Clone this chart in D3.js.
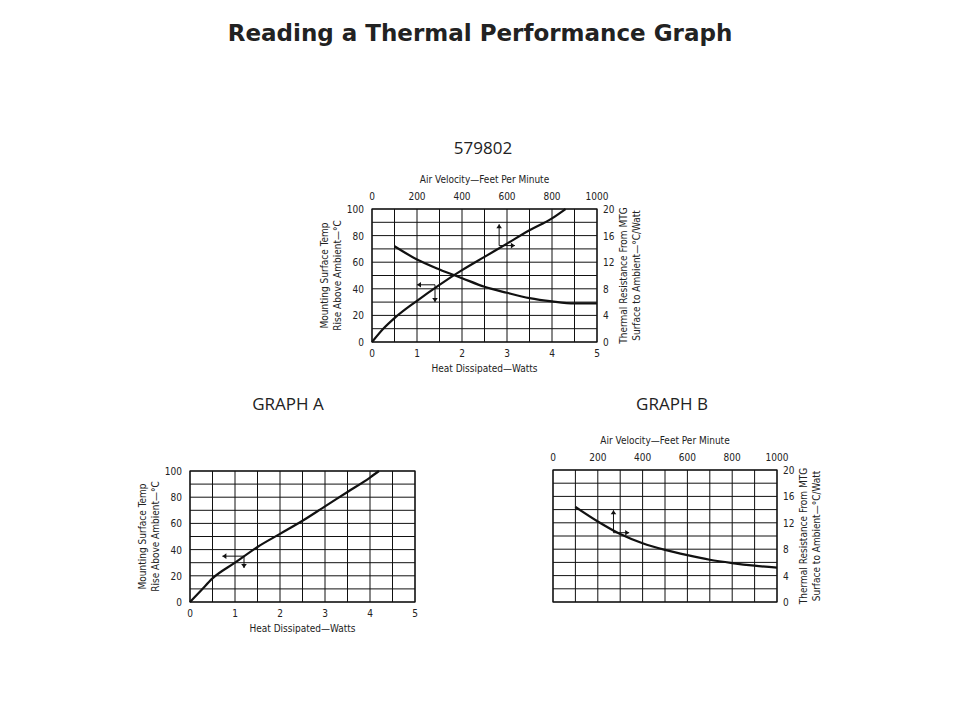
<!DOCTYPE html>
<html>
<head>
<meta charset="utf-8">
<script src="https://cdn.jsdelivr.net/npm/d3@7"></script>
<style>
body { margin: 0; background: #fff; }
text { fill: #222; }
.tick { font-family: "DejaVu Sans Condensed", "DejaVu Sans", sans-serif; font-size: 10px; }
.lbl { font-family: "DejaVu Sans Condensed", "DejaVu Sans", sans-serif; font-size: 10px; }
</style>
</head>
<body>
<svg id="chart" width="960" height="720"></svg>
<script>
// watts vs temperature rise (top chart)
var topHeatW = [0, 0.25, 0.5, 1, 1.5, 2, 2.5, 3, 3.5, 4, 4.3];
var topTempC = [0, 10, 18, 31, 43, 54, 64, 74, 84, 93, 100];
// air velocity vs thermal resistance (top chart)
var topAirFpm = [100, 200, 300, 400, 500, 600, 700, 800, 900, 1000];
var topResist = [14.4, 12.4, 10.9, 9.6, 8.3, 7.4, 6.6, 6.1, 5.8, 5.8];
// graph A
var aHeatW = [0, 0.25, 0.5, 1, 1.5, 2, 2.5, 3, 3.5, 4, 4.2];
var aTempC = [0, 9, 18, 30, 42, 52, 62, 73, 84, 95, 100];
// graph B
var bAirFpm = [100, 200, 300, 400, 500, 600, 700, 800, 900, 1000];
var bResist = [14.4, 12.2, 10.3, 8.9, 7.9, 7.1, 6.4, 5.9, 5.5, 5.2];

var wattTicks = [0, 1, 2, 3, 4, 5];
var fpmTicks = [0, 200, 400, 600, 800, 1000];
var tempTicks = [0, 20, 40, 60, 80, 100];
var resTicks = [0, 4, 8, 12, 16, 20];

var svg = d3.select("#chart");

svg.append("text").attr("x", 480).attr("y", 41).attr("text-anchor", "middle")
	.style("font-family", "'DejaVu Sans', Verdana, sans-serif").style("font-weight", "bold")
	.style("font-size", "23px").text("Reading a Thermal Performance Graph");

function zip(xs, ys) { return xs.map(function(x, i) { return [x, ys[i]]; }); }

function drawPanel(p) {
	var g = svg.append("g");
	var x = d3.scaleLinear().domain([0, 5]).range([p.x0, p.x1]);
	var xTop = d3.scaleLinear().domain([0, 1000]).range([p.x0, p.x1]);
	var yL = d3.scaleLinear().domain([0, 100]).range([p.y1, p.y0]);
	var yR = d3.scaleLinear().domain([0, 20]).range([p.y1, p.y0]);

	// grid
	d3.range(0, 5.01, 0.5).forEach(function(v) {
		g.append("line").attr("x1", x(v)).attr("x2", x(v)).attr("y1", p.y0).attr("y2", p.y1)
			.attr("stroke", "#111").attr("stroke-width", 1);
	});
	d3.range(0, 100.1, 10).forEach(function(v) {
		g.append("line").attr("x1", p.x0).attr("x2", p.x1).attr("y1", yL(v)).attr("y2", yL(v))
			.attr("stroke", "#111").attr("stroke-width", 1);
	});
	g.append("rect").attr("x", p.x0).attr("y", p.y0).attr("width", p.x1 - p.x0).attr("height", p.y1 - p.y0)
		.attr("fill", "none").attr("stroke", "#111").attr("stroke-width", 1.2);

	var line = d3.line().curve(d3.curveMonotoneX);
	if (p.left) {
		g.selectAll(null).data(wattTicks).enter().append("text").attr("class", "tick")
			.attr("x", function(d) { return x(d); }).attr("y", p.y1 + 15).attr("text-anchor", "middle").text(function(d) { return d; });
		g.selectAll(null).data(tempTicks).enter().append("text").attr("class", "tick")
			.attr("x", p.x0 - 8).attr("y", function(d) { return yL(d) + 4; }).attr("text-anchor", "end").text(function(d) { return d; });
		g.append("text").attr("class", "lbl").attr("x", (p.x0 + p.x1) / 2).attr("y", p.y1 + 30)
			.attr("text-anchor", "middle").text("Heat Dissipated\u2014Watts");
		var cy = (p.y0 + p.y1) / 2;
		g.append("text").attr("class", "lbl").attr("transform", "translate(" + (p.x0 - 44) + "," + cy + ") rotate(-90)")
			.attr("text-anchor", "middle").text("Mounting Surface Temp");
		g.append("text").attr("class", "lbl").attr("transform", "translate(" + (p.x0 - 31) + "," + cy + ") rotate(-90)")
			.attr("text-anchor", "middle").text("Rise Above Ambient\u2014\u00b0C");
		g.append("path").attr("d", line(p.left.map(function(d) { return [x(d[0]), yL(d[1])]; })))
			.attr("fill", "none").attr("stroke", "#111").attr("stroke-width", 2.2);
	}
	if (p.right) {
		g.selectAll(null).data(fpmTicks).enter().append("text").attr("class", "tick")
			.attr("x", function(d) { return xTop(d); }).attr("y", p.y0 - 9).attr("text-anchor", "middle").text(function(d) { return d; });
		g.selectAll(null).data(resTicks).enter().append("text").attr("class", "tick")
			.attr("x", p.x1 + 6).attr("y", function(d) { return yR(d) + 4; }).attr("text-anchor", "start").text(function(d) { return d; });
		g.append("text").attr("class", "lbl").attr("x", (p.x0 + p.x1) / 2).attr("y", p.y0 - 26)
			.attr("text-anchor", "middle").text("Air Velocity\u2014Feet Per Minute");
		var cy2 = (p.y0 + p.y1) / 2;
		g.append("text").attr("class", "lbl").attr("transform", "translate(" + (p.x1 + 30) + "," + cy2 + ") rotate(-90)")
			.attr("text-anchor", "middle").text("Thermal Resistance From MTG");
		g.append("text").attr("class", "lbl").attr("transform", "translate(" + (p.x1 + 43) + "," + cy2 + ") rotate(-90)")
			.attr("text-anchor", "middle").text("Surface to Ambient\u2014\u00b0C/Watt");
		g.append("path").attr("d", line(p.right.map(function(d) { return [xTop(d[0]), yR(d[1])]; })))
			.attr("fill", "none").attr("stroke", "#111").attr("stroke-width", 2.2);
	}
	// indicator arrows, in data coords
	(p.arrows || []).forEach(function(a) {
		var sx = a.top ? xTop : x, sy = a.top ? yR : yL;
		var x1 = sx(a.from[0]), y1 = sy(a.from[1]), x2 = sx(a.to[0]), y2 = sy(a.to[1]);
		g.append("line").attr("x1", x1).attr("y1", y1).attr("x2", x2).attr("y2", y2)
			.attr("stroke", "#111").attr("stroke-width", 1);
		var ang = Math.atan2(y2 - y1, x2 - x1), s = 4;
		var pts = [[x2, y2],
			[x2 - s * Math.cos(ang) + s * 0.7 * Math.sin(ang), y2 - s * Math.sin(ang) - s * 0.7 * Math.cos(ang)],
			[x2 - s * Math.cos(ang) - s * 0.7 * Math.sin(ang), y2 - s * Math.sin(ang) + s * 0.7 * Math.cos(ang)]];
		g.append("path").attr("d", "M" + pts.join("L") + "Z").attr("fill", "#111");
	});
}

svg.append("text").attr("x", 483).attr("y", 154).attr("text-anchor", "middle")
	.style("font-family", "'Open Sans', sans-serif").style("font-size", "17px").text("579802");
drawPanel({ x0: 372, x1: 597, y0: 209, y1: 342,
	left: zip(topHeatW, topTempC), right: zip(topAirFpm, topResist),
	arrows: [
		{ from: [1.4, 43], to: [1.0, 43] }, { from: [1.4, 43], to: [1.4, 30] },
		{ top: true, from: [565, 14.5], to: [565, 17.7] }, { top: true, from: [565, 14.5], to: [635, 14.5] }
	] });

svg.append("text").attr("x", 288).attr("y", 410).attr("text-anchor", "middle")
	.style("font-family", "'Open Sans', sans-serif").style("font-size", "17px").text("GRAPH A");
drawPanel({ x0: 190, x1: 415, y0: 471, y1: 602,
	left: zip(aHeatW, aTempC),
	arrows: [{ from: [1.2, 35], to: [0.72, 35] }, { from: [1.2, 35], to: [1.2, 26] }] });

svg.append("text").attr("x", 672).attr("y", 410).attr("text-anchor", "middle")
	.style("font-family", "'Open Sans', sans-serif").style("font-size", "17px").text("GRAPH B");
drawPanel({ x0: 553, x1: 777, y0: 470, y1: 602,
	right: zip(bAirFpm, bResist),
	arrows: [{ top: true, from: [270, 10.5], to: [270, 13.9] }, { top: true, from: [270, 10.5], to: [340, 10.5] }] });
</script>
</body>
</html>
